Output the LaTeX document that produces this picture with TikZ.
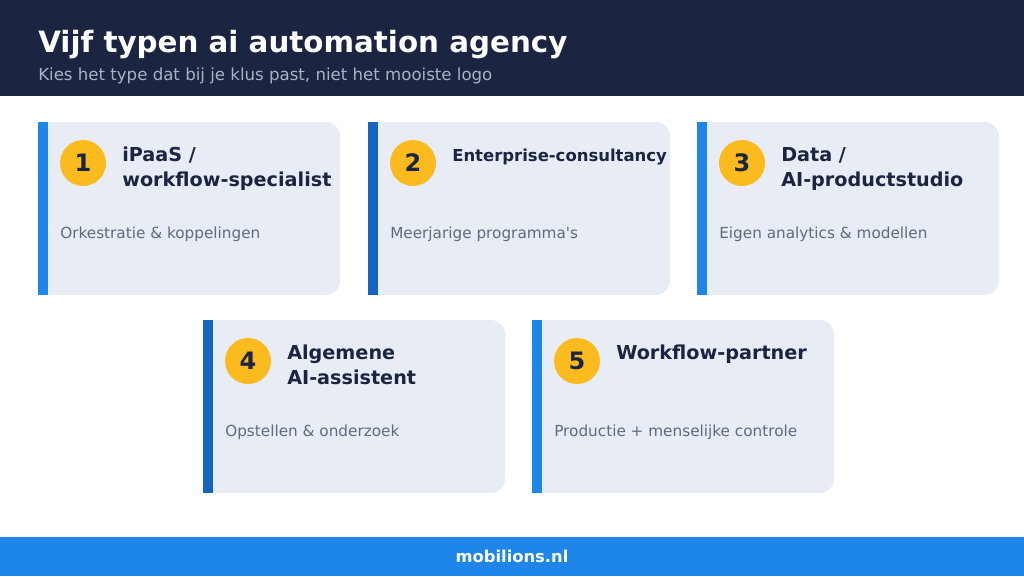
\documentclass[tikz,border=0pt]{standalone}
\usepackage{fontspec}
\setmainfont{DejaVu Sans}[Ligatures=TeXOff]
\definecolor{navy}{HTML}{1B2440}
\definecolor{subgray}{HTML}{A9B3C6}
\definecolor{footblue}{HTML}{1E86E8}
\definecolor{barlight}{HTML}{1E86E8}
\definecolor{bardark}{HTML}{1565C0}
\definecolor{cardfill}{HTML}{E8EDF5}
\definecolor{amber}{HTML}{FBBA1E}
\definecolor{titlecol}{HTML}{1B2440}
\definecolor{desccol}{HTML}{5F6A7C}
\tikzset{
  numcirc/.style={circle, fill=amber, minimum size=34.5pt, inner sep=0pt, text=titlecol,
    font=\bfseries\fontsize{18}{20}\selectfont},
  cardtitle/.style={anchor=base west, inner sep=0pt, align=left, text=titlecol,
    font=\bfseries\fontsize{14.4}{18.75}\selectfont},
  carddesc/.style={anchor=base west, inner sep=0pt, text=desccol,
    font=\fontsize{11.45}{13}\selectfont},
  twoline/.style={yshift=-18.75pt},
}
% #1 x, #2 y, #3 name, #4 bar colour, #5 number, #6 title, #7 desc, #8 title style extra
\newcommand\mycard[8]{%
  \fill[cardfill, rounded corners=10.5pt] ({#1},{#2}) rectangle ({#1+302},{#2+173});
  \fill[cardfill] ({#1},{#2}) rectangle ({#1+150},{#2+173});
  \fill[#4] ({#1},{#2}) rectangle ({#1+9.5},{#2+173});
  \node[numcirc] (#3n) at ({#1+45},{#2+41}) {#5};
  \node[cardtitle,#8] (#3t) at ({#1+84},{#2+39}) {#6};
  \node[carddesc] (#3d) at ({#1+22},{#2+116}) {#7};
}
\begin{document}
\begin{tikzpicture}[x=0.75pt,y=-0.75pt]
\useasboundingbox (0,0) rectangle (1024,576);
\fill[navy] (0,0) rectangle (1024,96);
\fill[footblue] (0,537) rectangle (1024,576);
\node[anchor=base west, inner sep=0pt, text=white, font=\bfseries\fontsize{22}{25}\selectfont] (title) at (38,52) {Vijf typen ai automation agency};
\node[anchor=base west, inner sep=0pt, text=subgray, font=\fontsize{12.45}{14}\selectfont] (subtitle) at (38,80) {Kies het type dat bij je klus past, niet het mooiste logo};
\node[inner sep=0pt, text=white, font=\bfseries\fontsize{12.25}{14}\selectfont] (footer) at (512,556) {mobilions.nl};
\mycard{38}{122}{c1}{barlight}{1}{iPaaS /\\workflow-specialist}{Orkestratie \& koppelingen}{twoline}
\mycard{368}{122}{c2}{bardark}{2}{Enterprise-consultancy}{Meerjarige programma\textquotesingle s}{font=\bfseries\fontsize{12.35}{16}\selectfont}
\mycard{697}{122}{c3}{barlight}{3}{Data /\\AI-productstudio}{Eigen analytics \& modellen}{twoline}
\mycard{203}{320}{c4}{bardark}{4}{Algemene\\AI-assistent}{Opstellen \& onderzoek}{twoline}
\mycard{532}{320}{c5}{barlight}{5}{Workflow-partner}{Productie + menselijke controle}{}
\end{tikzpicture}
\end{document}
